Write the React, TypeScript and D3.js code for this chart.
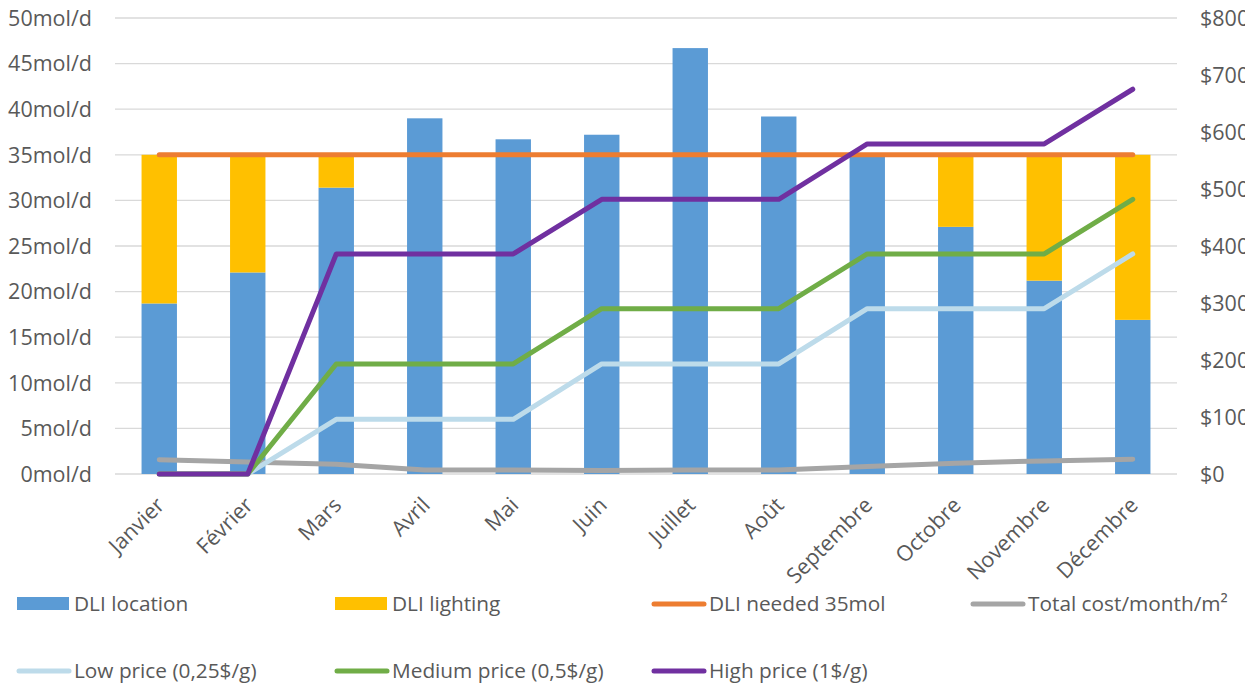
import * as d3 from "d3";

const months = ["Janvier", "Février", "Mars", "Avril", "Mai", "Juin", "Juillet", "Août", "Septembre", "Octobre", "Novembre", "Décembre"];
const dliLocation = [18.7, 22.1, 31.4, 39.0, 36.7, 37.2, 46.7, 39.2, 34.9, 27.1, 21.2, 16.9];
const dliLighting = [16.3, 12.9, 3.6, 0, 0, 0, 0, 0, 0.1, 7.9, 13.8, 18.1];
const dliNeeded = [35, 35, 35, 35, 35, 35, 35, 35, 35, 35, 35, 35];
const totalCost = [25, 21, 17, 7, 7, 6, 7, 7, 13, 19, 23, 26];
const lowPrice = [0, 0, 96, 96, 96, 193, 193, 193, 290, 290, 290, 386];
const mediumPrice = [0, 0, 193, 193, 193, 290, 290, 290, 386, 386, 386, 482];
const highPrice = [0, 0, 386, 386, 386, 482, 482, 482, 579, 579, 579, 675];
const leftTicks = [0, 5, 10, 15, 20, 25, 30, 35, 40, 45, 50];
const rightTicks = [0, 100, 200, 300, 400, 500, 600, 700, 800];

const W = 1245;
const H = 685;
const font = "'Open Sans', sans-serif";
const textColor = "#595959";

export default function App() {
  const plot = { left: 115, right: 1177, top: 18, bottom: 474 };

  const x = d3
    .scaleBand<string>()
    .domain(months)
    .range([plot.left, plot.right])
    .paddingInner(0.6)
    .paddingOuter(0.3);
  const cx = (m: string) => x(m)! + x.bandwidth() / 2;

  const yL = d3.scaleLinear().domain([0, 50]).range([plot.bottom, plot.top]);
  const yR = d3.scaleLinear().domain([0, 800]).range([plot.bottom, plot.top]);

  const lineL = d3
    .line<number>()
    .x((_, i) => cx(months[i]))
    .y((d) => yL(d));
  const lineR = d3
    .line<number>()
    .x((_, i) => cx(months[i]))
    .y((d) => yR(d));

  const lines = [
    { key: "needed", d: lineL(dliNeeded), color: "#ED7D31" },
    { key: "cost", d: lineR(totalCost), color: "#A5A5A5" },
    { key: "low", d: lineR(lowPrice), color: "#BDDBEA" },
    { key: "medium", d: lineR(mediumPrice), color: "#70AD47" },
    { key: "high", d: lineR(highPrice), color: "#7030A0" },
  ];

  // Legend
  const legend = [
    { label: "DLI location", x: 17, y: 604, type: "rect", color: "#5B9BD5" },
    { label: "DLI lighting", x: 335, y: 604, type: "rect", color: "#FFC000" },
    { label: "DLI needed 35mol", x: 652, y: 604, type: "line", color: "#ED7D31" },
    { label: "Total cost/month/m²", x: 971, y: 604, type: "line", color: "#A5A5A5" },
    { label: "Low price (0,25$/g)", x: 17, y: 671, type: "line", color: "#BDDBEA" },
    { label: "Medium price (0,5$/g)", x: 335, y: 671, type: "line", color: "#70AD47" },
    { label: "High price (1$/g)", x: 652, y: 671, type: "line", color: "#7030A0" },
  ];

  return (
    <svg
      width={W}
      height={H}
      style={{ position: "absolute", left: 0, top: 0, background: "#fff" }}
      fontFamily={font}
    >
      {leftTicks.map((t) => (
        <line key={t} x1={plot.left} x2={plot.right} y1={yL(t)} y2={yL(t)} stroke="#D9D9D9" strokeWidth={1.3} />
      ))}
      {leftTicks.map((t) => (
        <text key={t} x={92} y={yL(t)} dy="0.36em" textAnchor="end" fontSize={21.5} fill={textColor}>
          {t}mol/d
        </text>
      ))}
      {rightTicks.map((t) => (
        <text key={t} x={1200} y={yR(t)} dy="0.36em" textAnchor="start" fontSize={21.5} fill={textColor}>
          ${t}
        </text>
      ))}

      {months.map((m, i) => (
        <g key={m}>
          <rect x={x(m)} width={x.bandwidth()} y={yL(dliLocation[i])} height={yL(0) - yL(dliLocation[i])} fill="#5B9BD5" />
          {dliLighting[i] > 0 && (
            <rect
              x={x(m)}
              width={x.bandwidth()}
              y={yL(dliLocation[i] + dliLighting[i])}
              height={yL(dliLocation[i]) - yL(dliLocation[i] + dliLighting[i])}
              fill="#FFC000"
            />
          )}
        </g>
      ))}

      {lines.map((l) => (
        <path key={l.key} d={l.d!} fill="none" stroke={l.color} strokeWidth={5} strokeLinecap="round" strokeLinejoin="round" />
      ))}

      {months.map((m) => (
        <text
          key={m}
          transform={`translate(${cx(m) + 1},${plot.bottom + 27}) rotate(-45)`}
          textAnchor="end"
          dy="0.36em"
          fontSize={21.5}
          fill={textColor}
        >
          {m}
        </text>
      ))}

      {legend.map((l) => (
        <g key={l.label}>
          {l.type === "rect" ? (
            <rect x={l.x} y={l.y - 7} width={52} height={13} fill={l.color} />
          ) : (
            <line x1={l.x + 2} x2={l.x + 52} y1={l.y} y2={l.y} stroke={l.color} strokeWidth={5} strokeLinecap="round" />
          )}
          <text x={l.x + 57} y={l.y} dy="0.36em" fontSize={20.8} fill={textColor}>
            {l.label}
          </text>
        </g>
      ))}
    </svg>
  );
}
